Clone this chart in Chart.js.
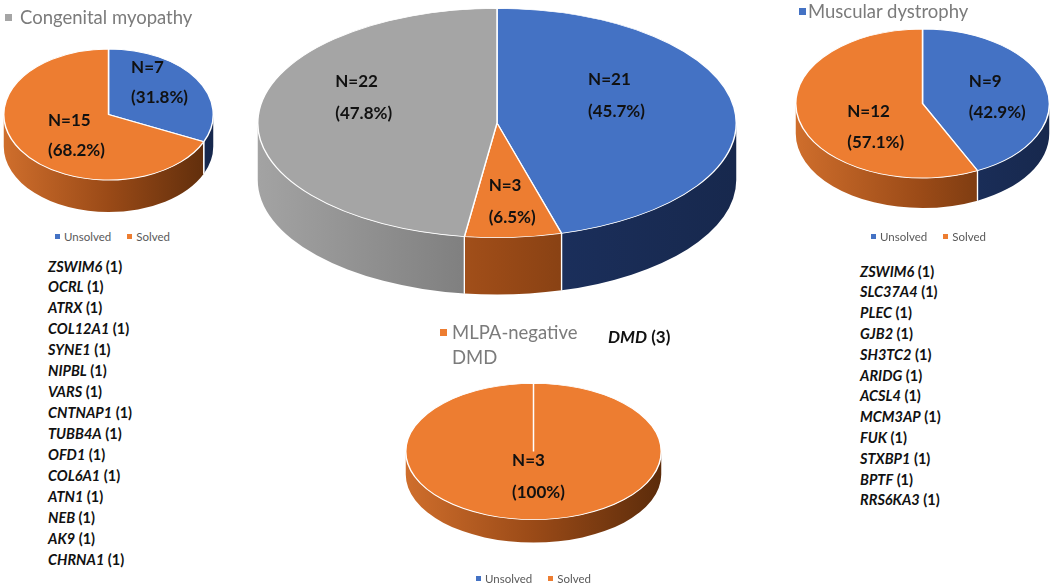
<!DOCTYPE html>
<html>
<head>
<meta charset="utf-8">
<script src="https://cdn.jsdelivr.net/npm/chart.js@4.4.1/dist/chart.umd.min.js"></script>
<style>
body { margin: 0; width: 1052px; height: 586px; position: relative; overflow: hidden; background: #fff; font-family: Lato, "Noto Sans", sans-serif; }
canvas { position: absolute; }
.t { position: absolute; white-space: nowrap; }
.title { font-size: 18.5px; color: #7b7b7b; line-height: 25px; }
.sq { position: absolute; width: 7px; height: 7px; }
.leg { position: absolute; font-size: 11.5px; color: #595959; line-height: 14px; white-space: nowrap; }
.leg i { display: inline-block; width: 5px; height: 5px; margin-right: 4px; vertical-align: 2px; }
.leg span { margin-right: 16px; }
.genes { position: absolute; font-size: 14.5px; font-weight: bold; color: #111; white-space: nowrap; }
.genes em { font-style: italic; }
</style>
</head>
<body>
<canvas id="groupPie" width="480" height="480" style="left:257px;top:-117px"></canvas>
<canvas id="myoPie" width="211" height="211" style="left:2.5px;top:8.5px"></canvas>
<canvas id="dysPie" width="255" height="255" style="left:795px;top:-24.5px"></canvas>
<canvas id="mlpaPie" width="257" height="257" style="left:405px;top:322.5px"></canvas>

<div class="sq" style="left:5px;top:14px;background:#a5a5a5"></div>
<div class="t title" style="left:20px;top:5px">Congenital myopathy</div>
<div class="sq" style="left:799px;top:8px;background:#4472c4"></div>
<div class="t title" style="left:808px;top:-1px">Muscular dystrophy</div>
<div class="sq" style="left:440px;top:329px;background:#ed7d31"></div>
<div class="t title" style="left:452px;top:320px">MLPA-negative<br>DMD</div>
<div class="t" style="left:608px;top:326px;font-size:17px;font-weight:bold;color:#111;line-height:22px"><em>DMD</em> (3)</div>

<div class="leg" id="legMyo" style="left:55px;top:230px"></div>
<div class="leg" id="legDys" style="left:871px;top:230px"></div>
<div class="leg" id="legMlpa" style="left:476px;top:572px"></div>

<div class="genes" id="genesMyo" style="left:48px;top:256.5px;line-height:20.95px"></div>
<div class="genes" id="genesDys" style="left:860px;top:261.6px;line-height:20.8px"></div>

<script>
// data
var outcomeLabels = ['Unsolved', 'Solved'];
var groupLabels = ['Muscular dystrophy', 'MLPA-negative DMD', 'Congenital myopathy'];
var groupCounts = [21, 3, 22];
var myopathyCounts = [7, 15];
var dystrophyCounts = [9, 12];
var mlpaCounts = [0, 3];

var myopathyGenes = ['ZSWIM6', 'OCRL', 'ATRX', 'COL12A1', 'SYNE1', 'NIPBL', 'VARS', 'CNTNAP1',
  'TUBB4A', 'OFD1', 'COL6A1', 'ATN1', 'NEB', 'AK9', 'CHRNA1'];
var myopathyGeneCounts = [1, 1, 1, 1, 1, 1, 1, 1, 1, 1, 1, 1, 1, 1, 1];
var dystrophyGenes = ['ZSWIM6', 'SLC37A4', 'PLEC', 'GJB2', 'SH3TC2', 'ARIDG', 'ACSL4', 'MCM3AP',
  'FUK', 'STXBP1', 'BPTF', 'RRS6KA3'];
var dystrophyGeneCounts = [1, 1, 1, 1, 1, 1, 1, 1, 1, 1, 1, 1];

var BLUE = '#4472c4', ORANGE = '#ed7d31', GRAY = '#a5a5a5';
var SIDE_BLUE = ['#26407a', '#1c3160', '#17284d'];
var SIDE_ORANGE = ['#cf6e2c', '#9a4a17', '#5c2c0b'];
var SIDE_GRAY = ['#a3a3a3', '#7a7a7a', '#4f4f4f'];

// fake 3d: squash the pie and draw a side wall under the front half
function pie3d(cfg) {
  return {
    id: 'pie3d',
    beforeDatasetsDraw: function(chart) {
      var ctx = chart.ctx;
      var arcs = chart.getDatasetMeta(0).data;
      var cx = arcs[0].x, cy = arcs[0].y, r = arcs[0].outerRadius;
      var k = cfg.tilt, d = cfg.depth;
      ctx.save();
      arcs.forEach(function(arc, i) {
        var a = Math.max(arc.startAngle, 0), b = Math.min(arc.endAngle, Math.PI);
        if (b <= a) return;
        var g = ctx.createLinearGradient(cx - r, 0, cx + r, 0);
        var cols = cfg.sides[i];
        cols.forEach(function(c, j) { g.addColorStop(j / (cols.length - 1), c); });
        ctx.beginPath();
        ctx.ellipse(cx, cy, r, r * k, 0, a, b);
        ctx.ellipse(cx, cy + d, r, r * k, 0, b, a, true);
        ctx.closePath();
        ctx.fillStyle = g;
        ctx.fill();
      });
      ctx.strokeStyle = '#fff';
      ctx.lineWidth = 1.2;
      arcs.forEach(function(arc) {
        [arc.startAngle, arc.endAngle].forEach(function(t) {
          if (t > 0.01 && t < Math.PI - 0.01) {
            var x = cx + r * Math.cos(t), y = cy + r * k * Math.sin(t);
            ctx.beginPath();
            ctx.moveTo(x, y);
            ctx.lineTo(x, y + d);
            ctx.stroke();
          }
        });
      });
      ctx.restore();
      ctx.save();
      ctx.translate(cx, cy);
      ctx.scale(1, k);
      ctx.translate(-cx, -cy);
    },
    afterDatasetsDraw: function(chart) {
      var ctx = chart.ctx;
      ctx.restore();
      var arcs = chart.getDatasetMeta(0).data;
      var vals = chart.data.datasets[0].data;
      var total = vals.reduce(function(s, v) { return s + v; }, 0);
      var cx = arcs[0].x, cy = arcs[0].y, r = arcs[0].outerRadius, k = cfg.tilt;
      ctx.save();
      ctx.font = 'bold 17px Lato, sans-serif';
      ctx.fillStyle = '#111';
      ctx.textBaseline = 'middle';
      ctx.textAlign = 'left';
      arcs.forEach(function(arc, i) {
        var v = vals[i];
        if (!v) return;
        var pct = v / total * 100;
        var l1 = 'N=' + v;
        var l2 = '(' + (pct === 100 ? '100' : pct.toFixed(1)) + '%)';
        var m = (arc.startAngle + arc.endAngle) / 2;
        var x = cx + 0.5 * r * Math.cos(m) + cfg.shifts[i][0];
        var y = cy + 0.5 * r * k * Math.sin(m) + cfg.shifts[i][1];
        var w = Math.max(ctx.measureText(l1).width, ctx.measureText(l2).width);
        ctx.fillText(l1, x - w / 2, y - cfg.gap / 2);
        ctx.fillText(l2, x - w / 2, y + cfg.gap / 2);
      });
      ctx.restore();
    }
  };
}

function makePie(id, labels, values, colors, cfg) {
  return new Chart(document.getElementById(id), {
    type: 'pie',
    data: {
      labels: labels,
      datasets: [{ data: values, backgroundColor: colors, borderColor: '#ffffff', borderWidth: 1.5 }]
    },
    options: {
      responsive: false,
      animation: false,
      events: [],
      layout: { padding: 0 },
      plugins: { legend: { display: false }, tooltip: { enabled: false } }
    },
    plugins: [pie3d(cfg)]
  });
}

makePie('groupPie', groupLabels, groupCounts, [BLUE, ORANGE, GRAY],
  { tilt: 0.479, depth: 57, gap: 32, sides: [SIDE_BLUE, SIDE_ORANGE, SIDE_GRAY], shifts: [[1, -20], [7, 21], [-14, -22]] });
makePie('myoPie', outcomeLabels, myopathyCounts, [BLUE, ORANGE],
  { tilt: 0.626, depth: 32, gap: 30, sides: [SIDE_BLUE, SIDE_ORANGE], shifts: [[7, -14], [12, 3]] });
makePie('dysPie', outcomeLabels, dystrophyCounts, [BLUE, ORANGE],
  { tilt: 0.588, depth: 30, gap: 31, sides: [SIDE_BLUE, SIDE_ORANGE], shifts: [[13, 2], [15, 15]] });
makePie('mlpaPie', outcomeLabels, mlpaCounts, [BLUE, ORANGE],
  { tilt: 0.533, depth: 23, gap: 32, sides: [SIDE_BLUE, SIDE_ORANGE], shifts: [[0, 0], [5, -9]] });

function legendHtml(labels, colors) {
  return labels.map(function(l, i) {
    return '<span><i style="background:' + colors[i] + '"></i>' + l + '</span>';
  }).join('');
}
['legMyo', 'legDys', 'legMlpa'].forEach(function(id) {
  document.getElementById(id).innerHTML = legendHtml(outcomeLabels, [BLUE, ORANGE]);
});

function geneHtml(genes, counts) {
  return genes.map(function(g, i) { return '<em>' + g + '</em> (' + counts[i] + ')'; }).join('<br>');
}
document.getElementById('genesMyo').innerHTML = geneHtml(myopathyGenes, myopathyGeneCounts);
document.getElementById('genesDys').innerHTML = geneHtml(dystrophyGenes, dystrophyGeneCounts);
</script>
</body>
</html>
